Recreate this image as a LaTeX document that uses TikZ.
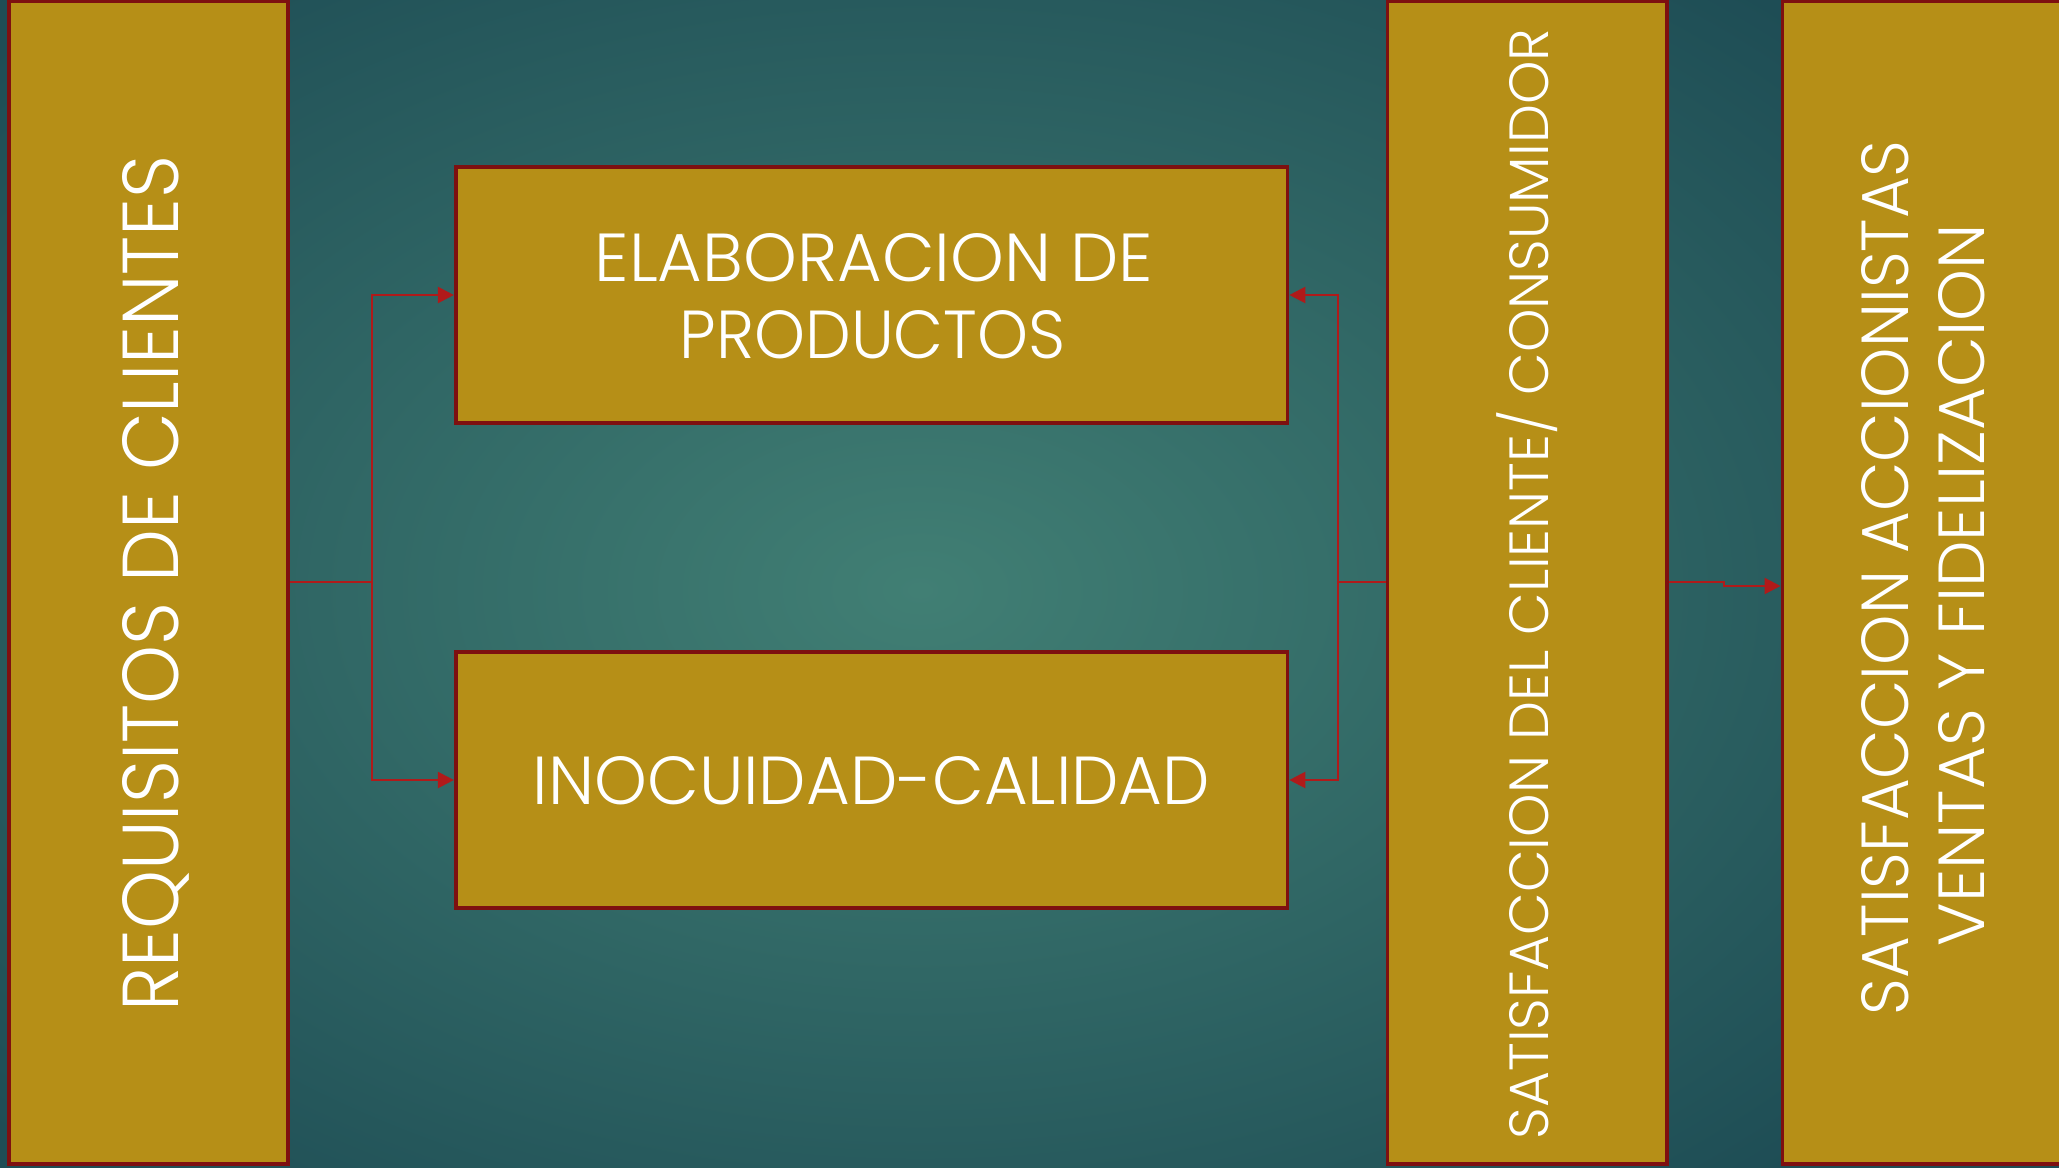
\documentclass[tikz,border=0pt]{standalone}
\usepackage{fontspec}
\usepackage{graphicx}
\newfontfamily\gfont{Poppins Light}
\usetikzlibrary{arrows.meta}
\definecolor{gold}{HTML}{B68F17}
\definecolor{bord}{HTML}{7E1010}
\definecolor{wire}{HTML}{B01A1A}
\definecolor{bgin}{HTML}{417F74}
\definecolor{bgout}{HTML}{1E4D55}
\newcommand{\fitt}[3]{\resizebox{#1}{#2}{\smash{#3}\vphantom{O}}}
\begin{document}
\begin{tikzpicture}[x=0.5pt,y=-0.5pt,
  panel/.style={draw=bord, line width=1.8pt, fill=gold, inner sep=0pt},
  lbl/.style={text=white, font=\gfont, inner sep=0pt},
  conn/.style={draw=wire, line width=1.1pt},
  arr/.style={conn, -{Triangle[length=8pt,width=8pt]}}]
\useasboundingbox (0,0) rectangle (2059,1167);
\begin{scope}
  \clip (0,0) rectangle (2059,1167);
  \shade[inner color=bgin, outer color=bgout] (-330,-210) rectangle (2170,1390);
\end{scope}

% panels
\node[panel, minimum width=139.4pt, minimum height=581.35pt] (req) at (148.6,582.35) {};
\node[panel, minimum width=415.9pt, minimum height=128pt] (elab) at (871.6,295) {};
\node[panel, minimum width=415.9pt, minimum height=128pt] (inoc) at (871.6,780) {};
\node[panel, minimum width=139.75pt, minimum height=581.35pt] (sat) at (1527.25,582.35) {};
\node[panel, minimum width=146.3pt, minimum height=581.35pt] (acc) at (1928.6,582.35) {};

% labels
\node[lbl, rotate=90] (reqt) at (150.7,583.5) {\fitt{428pt}{28pt}{REQUISITOS DE CLIENTES}};
\node[lbl] (elabt1) at (873.8,258) {\fitt{279pt}{24pt}{ELABORACION DE}};
\node[lbl] (elabt2) at (872.7,334.5) {\fitt{193pt}{24pt}{PRODUCTOS}};
\node[lbl] (inoct) at (871.5,781) {\fitt{338.5pt}{24pt}{INOCUIDAD-CALIDAD}};
\node[lbl, rotate=90] (satt) at (1528.8,584) {\fitt{555pt}{19.5pt}{SATISFACCION DEL CLIENTE/ CONSUMIDOR}};
\node[lbl, rotate=90] (acct1) at (1885.5,578) {\fitt{437.5pt}{23.5pt}{SATISFACCION ACCIONISTAS}};
\node[lbl, rotate=90] (acct2) at (1962,585) {\fitt{361pt}{23pt}{VENTAS Y FIDELIZACION}};

% connectors
\coordinate (lj) at (372,582.35);
\coordinate (rj) at (1338,582.35);
\coordinate (jog) at (1724,586);
\draw[conn] (req.east) -- (lj);
\draw[arr] (lj) |- (elab.west);
\draw[arr] (lj) |- (inoc.west);
\draw[conn] (sat.west) -- (rj);
\draw[arr] (rj) |- (elab.east);
\draw[arr] (rj) |- (inoc.east);
\draw[arr] (sat.east) -- (sat.east -| jog) -- (jog) -- (jog -| acc.west);
\end{tikzpicture}
\end{document}
